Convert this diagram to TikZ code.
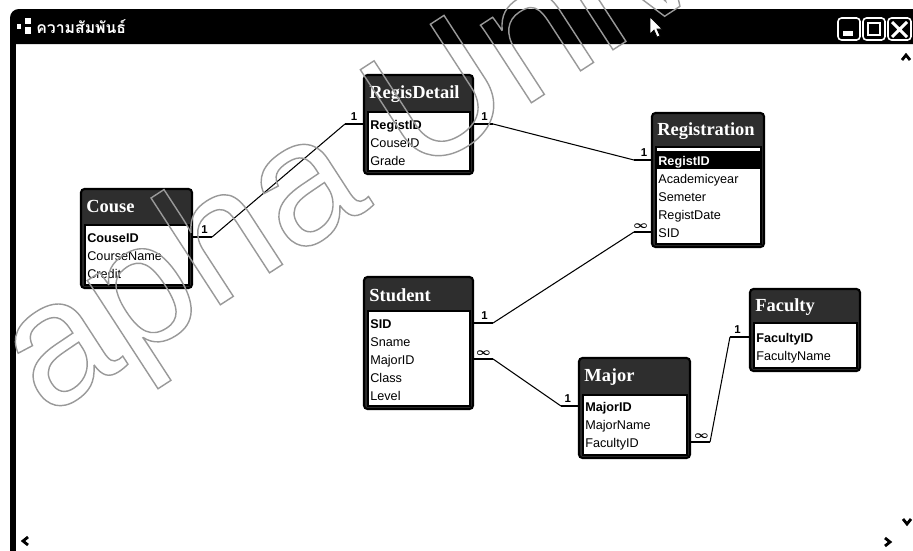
\documentclass[tikz,border=0pt]{standalone}
\usepackage{fontspec}
\setmainfont{Liberation Sans}
\newfontfamily\thaifont[Script=Thai]{Loma}
\newfontfamily\headfont{Liberation Serif}
\usetikzlibrary{calc,fit,positioning}

\begin{document}
\begin{tikzpicture}
[x=0.02cm, y=-0.02cm, font=\fontsize{7.2}{8}\selectfont]
\tikzstyle{tbl}=[rectangle, draw=black, line width=1.2pt, fill=black!82, rounded corners=2pt, inner sep=0pt]
\tikzstyle{list}=[rectangle, draw=black, line width=0.8pt, fill=white, inner sep=0pt]
\tikzstyle{sel}=[rectangle, fill=black, inner sep=0pt]
\tikzstyle{title}=[anchor=west, text=white, inner sep=0pt, font=\headfont\bfseries\fontsize{10.5}{12}\selectfont]
\tikzstyle{fld}=[anchor=west, inner sep=0pt, text height=1.5ex, text depth=0.3ex]
\tikzstyle{key}=[fld, font=\bfseries\fontsize{7.2}{8}\selectfont]
\tikzstyle{stub}=[line width=1.7pt]
\tikzstyle{rel}=[line width=0.6pt]
\tikzstyle{card}=[above, inner sep=1pt, font=\bfseries\boldmath\fontsize{6.5}{7}\selectfont]
\tikzstyle{btn}=[draw=white, line width=0.9pt, fill=black, rounded corners=2pt]

\useasboundingbox (0,0) rectangle (913,551);
\fill[white] (0,0) rectangle (913,551);

% window frame
\fill[black] (10,44) [rounded corners=5pt] -- (10,9) [sharp corners] -- (913,9) -- (913,44) -- cycle;
\fill[black] (10,44) rectangle (16,551);
\fill[white] (17,24) rectangle (21,29);
\fill[white] (25,18) rectangle (31,24);
\fill[white] (25,27) rectangle (31,34);
\node[anchor=west, text=white, inner sep=0pt, font=\thaifont\bfseries\fontsize{9}{11}\selectfont] (wintitle) at (36,27) {ความสัมพันธ์};
\draw[btn] (838,18) rectangle (860,40);
\fill[white] (843,31) rectangle (853,36);
\draw[btn] (863,18) rectangle (885,40);
\draw[white, line width=1.2pt] (868,23) rectangle (880,35);
\draw[btn] (888,18) rectangle (911,40);
\draw[white, line width=1.8pt] (892,22) -- (907,37) (907,22) -- (892,37);
\filldraw[fill=white, draw=black, line width=0.4pt] (650,17) -- (650,34) -- (654,30) -- (657,37) -- (660,36) -- (657,29) -- (662,29) -- cycle;

% scroll arrows
\draw[line width=1.6pt] (902,60) -- (906,55) -- (910,60);
\draw[line width=1.6pt] (903,519) -- (907,524) -- (911,519);
\draw[line width=1.6pt] (28,537) -- (23,541) -- (28,545);
\draw[line width=1.6pt] (885,538) -- (890,542) -- (885,546);

% Couse
\node[tbl, fit={(81,189) (192,288)}] (couse) {};
\node[list, fit={(85,225) (189,285)}] (couse_l) {};
\node[title] (couse_t) at (86,207) {Couse};
\node[key] (couse_id) at (87,237) {CouseID};
\node[fld] (couse_name) at (87,255) {CourseName};
\node[fld] (couse_credit) at (87,273) {Credit};

% RegisDetail
\node[tbl, fit={(364,75) (473,174)}] (regd) {};
\node[list, fit={(368,112) (470,171)}] (regd_l) {};
\node[title] (regd_t) at (369,94) {RegisDetail};
\node[key] (regd_rid) at (370,124) {RegistID};
\node[fld] (regd_cid) at (370,142) {CouseID};
\node[fld] (regd_grade) at (370,160) {Grade};

% Registration
\node[tbl, fit={(652,113) (764,247)}] (reg) {};
\node[list, fit={(656,147) (761,244)}] (reg_l) {};
\node[sel, fit={(657,151) (760,169)}] (reg_s) {};
\node[title] (reg_t) at (657,131) {Registration};
\node[key, text=white] (reg_rid) at (658,160) {RegistID};
\node[fld] (reg_year) at (658,178) {Academicyear};
\node[fld] (reg_sem) at (658,196) {Semeter};
\node[fld] (reg_date) at (658,214) {RegistDate};
\node[fld] (reg_sid) at (658,232) {SID};

% Student
\node[tbl, fit={(364,277) (473,409)}] (stu) {};
\node[list, fit={(368,311) (470,406)}] (stu_l) {};
\node[title] (stu_t) at (369,295) {Student};
\node[key] (stu_sid) at (370,323) {SID};
\node[fld] (stu_name) at (370,341) {Sname};
\node[fld] (stu_mid) at (370,359) {MajorID};
\node[fld] (stu_class) at (370,377) {Class};
\node[fld] (stu_level) at (370,395) {Level};

% Major
\node[tbl, fit={(579,358) (690,458)}] (major) {};
\node[list, fit={(583,395) (687,455)}] (major_l) {};
\node[title] (major_t) at (584,377) {Major};
\node[key] (major_id) at (585,406) {MajorID};
\node[fld] (major_name) at (585,424) {MajorName};
\node[fld] (major_fid) at (585,442) {FacultyID};

% Faculty
\node[tbl, fit={(750,289) (860,371)}] (fac) {};
\node[list, fit={(754,323) (857,368)}] (fac_l) {};
\node[title] (fac_t) at (755,307) {Faculty};
\node[key] (fac_id) at (756,337) {FacultyID};
\node[fld] (fac_name) at (756,355) {FacultyName};

% relationships
\draw[stub] (couse.east |- couse_id) -- ++(19,0) node[card, pos=0.6] {1} coordinate (j_couse);
\draw[stub] (regd.west |- regd_rid) -- ++(-18,0) node[card, pos=0.5] {1} coordinate (j_regd_l);
\draw[stub] (regd.east |- regd_rid) -- ++(19,0) node[card, pos=0.55] {1} coordinate (j_regd_r);
\draw[stub] (reg.west |- reg_rid) -- ++(-17,0) node[card, pos=0.4] {1} coordinate (j_reg_rid);
\draw[stub] (reg.west |- reg_sid) -- ++(-17,0) node[card, pos=0.6] {$\infty$} coordinate (j_reg_sid);
\draw[stub] (stu.east |- stu_sid) -- ++(19,0) node[card, pos=0.55] {1} coordinate (j_stu_sid);
\draw[stub] (stu.east |- stu_mid) -- ++(19,0) node[card, pos=0.5] {$\infty$} coordinate (j_stu_mid);
\draw[stub] (major.west |- major_id) -- ++(-17,0) node[card, pos=0.6] {1} coordinate (j_major_id);
\draw[stub] (major.east |- major_fid) -- ++(19,0) node[card, pos=0.55] {$\infty$} coordinate (j_major_fid);
\draw[stub] (fac.west |- fac_id) -- ++(-19,0) node[card, pos=0.6] {1} coordinate (j_fac_id);

\draw[rel] (j_couse) -- (j_regd_l);
\draw[rel] (j_regd_r) -- (j_reg_rid);
\draw[rel] (j_stu_sid) -- (j_reg_sid);
\draw[rel] (j_stu_mid) -- (j_major_id);
\draw[rel] (j_major_fid) -- (j_fac_id);

% outlined mark across the window
\node[rotate=33, anchor=base west, inner sep=0pt, text=black!40, font=\fontsize{100}{100}\selectfont] (wmark) at (46,418)
  {\special{pdf:literal direct 1 Tr 0.8 w}apha Univ\special{pdf:literal direct 0 Tr}};
\end{tikzpicture}
\end{document}
